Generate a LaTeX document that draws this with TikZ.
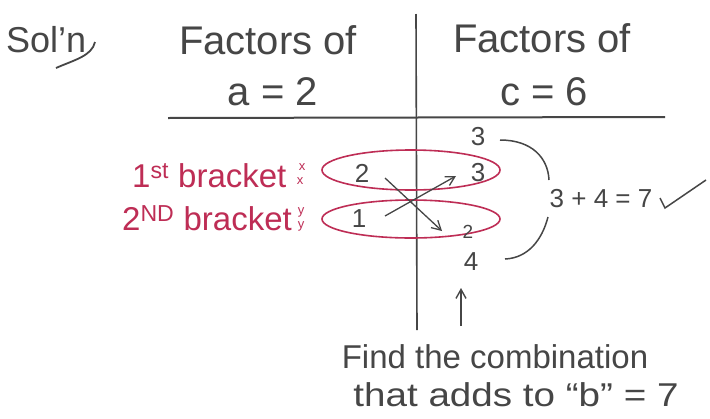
\documentclass[tikz,border=0pt]{standalone}
\usepackage{fontspec}
\setmainfont{Liberation Sans}
\usetikzlibrary{shapes.geometric,arrows.meta}
\definecolor{pen}{RGB}{70,70,70}
\definecolor{redpen}{RGB}{190,45,85}
\tikzset{
  hand/.style={text=pen, inner sep=0pt},
  big/.style={hand, font=\fontsize{40}{42}\selectfont},
  mid/.style={hand, font=\fontsize{26}{28}\selectfont},
  small/.style={hand, font=\fontsize{19}{20}\selectfont},
  note/.style={hand, font=\fontsize{33}{35}\selectfont},
  redtxt/.style={text=redpen, inner sep=0pt, font=\fontsize{33}{35}\selectfont},
  tiny/.style={text=redpen, inner sep=0pt, font=\fontsize{13}{13}\selectfont},
  loop/.style={draw=redpen, line width=1.6pt, ellipse, inner sep=0pt, minimum width=178pt},
  penline/.style={draw=pen, line width=1.3pt},
  arr/.style={penline, -{Straight Barb[length=9pt,width=10pt]}}
}
\begin{document}
\begin{tikzpicture}[x=1pt,y=-1pt]
\useasboundingbox[fill=white] (0,0) rectangle (710,418);
% headings
\node[big, anchor=west, font=\fontsize{36}{38}\selectfont] (soln) at (6,40) {Sol'n};
\coordinate (c1) at (95,42);
\coordinate (c2) at (56,68);
\draw[penline, line width=1.8pt] (c1) .. controls (92,56) and (74,60) .. (c2);
\node[big] (fa) at (268,40) {Factors of};
\node[big] (fa2) at (273,92) {a = 2};
\node[big] (fc) at (542,38) {Factors of};
\node[big] (fc2) at (544,92) {c = 6};
% table lines
\coordinate (vt) at (416,14);
\coordinate (vb) at (417,330);
\coordinate (hl) at (168,118);
\coordinate (hr) at (665,117);
\draw[penline, line width=1.6pt] (vt) -- (vb);
\draw[penline, line width=2pt] (hl) -- (hr);
% red loops
\node[loop, minimum height=40pt] (b1) at (411,170) {};
\node[loop, minimum height=38pt] (b2) at (411,219) {};
% numbers
\node[mid] (t3) at (478,137) {3};
\node[mid] (l2) at (362,173) {2};
\node[mid] (r3) at (478,173) {3};
\node[mid] (l1) at (359,219) {1};
\node[small] (r2) at (468,232) {2};
\node[mid] (b4) at (471,262) {4};
% cross arrows
\coordinate (s1) at (385,178);
\coordinate (e1) at (442,231);
\coordinate (s2) at (385,216);
\coordinate (e2) at (456,176);
\draw[arr] (s1) -- (e1);
\draw[arr] (s2) -- (e2);
% bracket
\coordinate (k1) at (500,140);
\coordinate (k2) at (549,180);
\coordinate (k3) at (548,217);
\coordinate (k4) at (505,259);
\draw[penline, line width=1.5pt] (k1) .. controls (532,140) and (548,158) .. (k2);
\draw[penline, line width=1.5pt] (k3) .. controls (542,240) and (528,258) .. (k4);
\node[mid] (sum) at (601,199) {3 + 4 = 7};
\coordinate (ch1) at (660,198);
\coordinate (ch2) at (665,208);
\coordinate (ch3) at (706,180);
\draw[penline, line width=1.5pt] (ch1) -- (ch2) -- (ch3);
% red labels
\node[redtxt, anchor=west] (first) at (132,176) {1\textsuperscript{st} bracket};
\node[redtxt, anchor=west] (second) at (122,218) {2\textsuperscript{ND} bracket};
\node[tiny] (fx1) at (302,167) {x};
\node[tiny] (fx2) at (300,181) {x};
\node[tiny] (sy1) at (301,212) {y};
\node[tiny] (sy2) at (301,226) {y};
% up arrow and note
\coordinate (ua) at (461,326);
\coordinate (ub) at (461,288);
\draw[arr, line width=1.4pt] (ua) -- (ub);
\node[note] (note1) at (495,357) {Find the combination};
\node[note] (note2) at (516,395) {\scalebox{1.17}[1]{that adds to “b” = 7}};
\end{tikzpicture}
\end{document}
